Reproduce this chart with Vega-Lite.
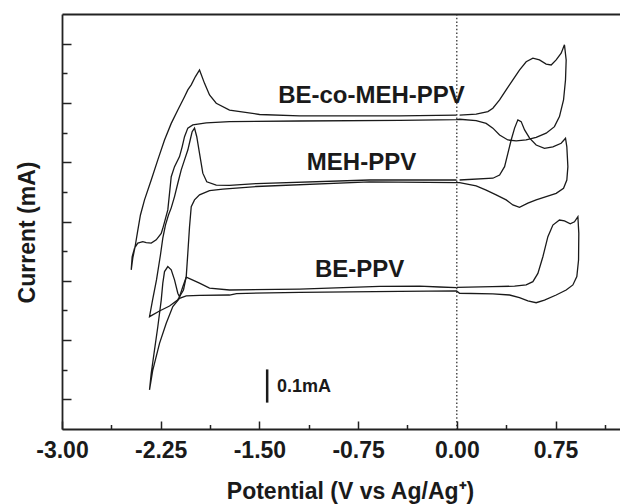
{
  "$schema": "https://vega.github.io/schema/vega-lite/v6.json",
  "autosize": {"type": "none"},
  "padding": {"left": 62, "top": 14, "right": 0, "bottom": 75},
  "width": 558,
  "height": 415,
  "config": {"view": {"stroke": null}, "font": "Liberation Sans"},
  "datasets": {
    "curves": [
      {"s":"BE-co-MEH-PPV","i":1,"V":0.021,"I":10.59},{"s":"BE-co-MEH-PPV","i":2,"V":0.147,"I":10.62},{"s":"BE-co-MEH-PPV","i":3,"V":0.236,"I":10.71},{"s":"BE-co-MEH-PPV","i":4,"V":0.274,"I":10.82},{"s":"BE-co-MEH-PPV","i":5,"V":0.325,"I":11.10},{"s":"BE-co-MEH-PPV","i":6,"V":0.375,"I":11.44},{"s":"BE-co-MEH-PPV","i":7,"V":0.426,"I":11.78},{"s":"BE-co-MEH-PPV","i":8,"V":0.476,"I":12.11},{"s":"BE-co-MEH-PPV","i":9,"V":0.527,"I":12.39},{"s":"BE-co-MEH-PPV","i":10,"V":0.578,"I":12.51},{"s":"BE-co-MEH-PPV","i":11,"V":0.628,"I":12.45},{"s":"BE-co-MEH-PPV","i":12,"V":0.679,"I":12.31},{"s":"BE-co-MEH-PPV","i":13,"V":0.717,"I":12.28},{"s":"BE-co-MEH-PPV","i":14,"V":0.755,"I":12.45},{"s":"BE-co-MEH-PPV","i":15,"V":0.793,"I":12.68},{"s":"BE-co-MEH-PPV","i":16,"V":0.818,"I":12.96},
      {"s":"BE-co-MEH-PPV","i":17,"V":0.831,"I":12.45},{"s":"BE-co-MEH-PPV","i":18,"V":0.826,"I":11.78},{"s":"BE-co-MEH-PPV","i":19,"V":0.811,"I":11.10},{"s":"BE-co-MEH-PPV","i":20,"V":0.780,"I":10.54},{"s":"BE-co-MEH-PPV","i":21,"V":0.742,"I":10.20},{"s":"BE-co-MEH-PPV","i":22,"V":0.679,"I":9.98},{"s":"BE-co-MEH-PPV","i":23,"V":0.603,"I":9.84},{"s":"BE-co-MEH-PPV","i":24,"V":0.527,"I":9.75},{"s":"BE-co-MEH-PPV","i":25,"V":0.451,"I":9.72},{"s":"BE-co-MEH-PPV","i":26,"V":0.388,"I":9.75},{"s":"BE-co-MEH-PPV","i":27,"V":0.325,"I":9.92},{"s":"BE-co-MEH-PPV","i":28,"V":0.274,"I":10.15},{"s":"BE-co-MEH-PPV","i":29,"V":0.223,"I":10.31},{"s":"BE-co-MEH-PPV","i":30,"V":0.147,"I":10.40},{"s":"BE-co-MEH-PPV","i":31,"V":0.021,"I":10.45},
      {"s":"BE-co-MEH-PPV","i":32,"V":-0.002,"I":10.44},{"s":"BE-co-MEH-PPV","i":33,"V":-0.435,"I":10.41},{"s":"BE-co-MEH-PPV","i":34,"V":-1.195,"I":10.39},{"s":"BE-co-MEH-PPV","i":35,"V":-1.727,"I":10.37},{"s":"BE-co-MEH-PPV","i":36,"V":-1.904,"I":10.33},{"s":"BE-co-MEH-PPV","i":37,"V":-2.006,"I":10.26},{"s":"BE-co-MEH-PPV","i":38,"V":-2.044,"I":10.15},{"s":"BE-co-MEH-PPV","i":39,"V":-2.069,"I":9.86},{"s":"BE-co-MEH-PPV","i":40,"V":-2.087,"I":9.52},{"s":"BE-co-MEH-PPV","i":41,"V":-2.107,"I":9.19},{"s":"BE-co-MEH-PPV","i":42,"V":-2.145,"I":8.85},{"s":"BE-co-MEH-PPV","i":43,"V":-2.170,"I":8.51},{"s":"BE-co-MEH-PPV","i":44,"V":-2.183,"I":7.95},{"s":"BE-co-MEH-PPV","i":45,"V":-2.196,"I":7.39},{"s":"BE-co-MEH-PPV","i":46,"V":-2.221,"I":6.98},{"s":"BE-co-MEH-PPV","i":47,"V":-2.234,"I":6.77},{"s":"BE-co-MEH-PPV","i":48,"V":-2.246,"I":6.60},{"s":"BE-co-MEH-PPV","i":49,"V":-2.284,"I":6.38},{"s":"BE-co-MEH-PPV","i":50,"V":-2.322,"I":6.27},{"s":"BE-co-MEH-PPV","i":51,"V":-2.360,"I":6.29},{"s":"BE-co-MEH-PPV","i":52,"V":-2.386,"I":6.32},{"s":"BE-co-MEH-PPV","i":53,"V":-2.424,"I":6.27},{"s":"BE-co-MEH-PPV","i":54,"V":-2.449,"I":6.10},{"s":"BE-co-MEH-PPV","i":55,"V":-2.467,"I":5.81},{"s":"BE-co-MEH-PPV","i":56,"V":-2.474,"I":5.37},
      {"s":"BE-co-MEH-PPV","i":57,"V":-2.462,"I":5.77},{"s":"BE-co-MEH-PPV","i":58,"V":-2.445,"I":6.14},{"s":"BE-co-MEH-PPV","i":59,"V":-2.426,"I":6.65},{"s":"BE-co-MEH-PPV","i":60,"V":-2.404,"I":7.22},{"s":"BE-co-MEH-PPV","i":61,"V":-2.373,"I":7.73},{"s":"BE-co-MEH-PPV","i":62,"V":-2.322,"I":8.40},{"s":"BE-co-MEH-PPV","i":63,"V":-2.272,"I":9.08},{"s":"BE-co-MEH-PPV","i":64,"V":-2.221,"I":9.75},{"s":"BE-co-MEH-PPV","i":65,"V":-2.170,"I":10.31},{"s":"BE-co-MEH-PPV","i":66,"V":-2.120,"I":10.76},{"s":"BE-co-MEH-PPV","i":67,"V":-2.069,"I":11.21},{"s":"BE-co-MEH-PPV","i":68,"V":-2.044,"I":11.44},{"s":"BE-co-MEH-PPV","i":69,"V":-2.018,"I":11.61},{"s":"BE-co-MEH-PPV","i":70,"V":-1.986,"I":11.89},{"s":"BE-co-MEH-PPV","i":71,"V":-1.955,"I":12.11},{"s":"BE-co-MEH-PPV","i":72,"V":-1.917,"I":11.66},{"s":"BE-co-MEH-PPV","i":73,"V":-1.879,"I":11.27},{"s":"BE-co-MEH-PPV","i":74,"V":-1.828,"I":10.99},{"s":"BE-co-MEH-PPV","i":75,"V":-1.727,"I":10.76},{"s":"BE-co-MEH-PPV","i":76,"V":-1.499,"I":10.61},{"s":"BE-co-MEH-PPV","i":77,"V":-1.195,"I":10.56},{"s":"BE-co-MEH-PPV","i":78,"V":-0.435,"I":10.56},{"s":"BE-co-MEH-PPV","i":79,"V":-0.002,"I":10.59},

      {"s":"MEH-PPV","i":1,"V":0.021,"I":8.40},{"s":"MEH-PPV","i":2,"V":0.274,"I":8.46},{"s":"MEH-PPV","i":3,"V":0.325,"I":8.57},{"s":"MEH-PPV","i":4,"V":0.363,"I":8.85},{"s":"MEH-PPV","i":5,"V":0.388,"I":9.30},{"s":"MEH-PPV","i":6,"V":0.413,"I":9.75},{"s":"MEH-PPV","i":7,"V":0.439,"I":10.15},{"s":"MEH-PPV","i":8,"V":0.464,"I":10.43},{"s":"MEH-PPV","i":9,"V":0.489,"I":10.37},{"s":"MEH-PPV","i":10,"V":0.515,"I":10.09},{"s":"MEH-PPV","i":11,"V":0.553,"I":9.81},{"s":"MEH-PPV","i":12,"V":0.603,"I":9.58},{"s":"MEH-PPV","i":13,"V":0.666,"I":9.47},{"s":"MEH-PPV","i":14,"V":0.730,"I":9.52},{"s":"MEH-PPV","i":15,"V":0.793,"I":9.64},{"s":"MEH-PPV","i":16,"V":0.826,"I":9.81},
      {"s":"MEH-PPV","i":17,"V":0.836,"I":9.52},{"s":"MEH-PPV","i":18,"V":0.844,"I":8.85},{"s":"MEH-PPV","i":19,"V":0.836,"I":8.40},{"s":"MEH-PPV","i":20,"V":0.811,"I":8.12},{"s":"MEH-PPV","i":21,"V":0.755,"I":7.95},{"s":"MEH-PPV","i":22,"V":0.679,"I":7.84},{"s":"MEH-PPV","i":23,"V":0.603,"I":7.73},{"s":"MEH-PPV","i":24,"V":0.540,"I":7.62},{"s":"MEH-PPV","i":25,"V":0.476,"I":7.48},{"s":"MEH-PPV","i":26,"V":0.426,"I":7.56},{"s":"MEH-PPV","i":27,"V":0.375,"I":7.73},{"s":"MEH-PPV","i":28,"V":0.299,"I":7.90},{"s":"MEH-PPV","i":29,"V":0.223,"I":8.06},{"s":"MEH-PPV","i":30,"V":0.147,"I":8.20},{"s":"MEH-PPV","i":31,"V":0.021,"I":8.31},
      {"s":"MEH-PPV","i":32,"V":-0.002,"I":8.31},{"s":"MEH-PPV","i":33,"V":-0.663,"I":8.34},{"s":"MEH-PPV","i":34,"V":-1.524,"I":8.18},{"s":"MEH-PPV","i":35,"V":-1.778,"I":8.09},{"s":"MEH-PPV","i":36,"V":-1.879,"I":8.04},{"s":"MEH-PPV","i":37,"V":-1.955,"I":7.90},{"s":"MEH-PPV","i":38,"V":-1.993,"I":7.73},{"s":"MEH-PPV","i":39,"V":-2.018,"I":7.50},{"s":"MEH-PPV","i":40,"V":-2.031,"I":6.82},{"s":"MEH-PPV","i":41,"V":-2.044,"I":5.93},{"s":"MEH-PPV","i":42,"V":-2.056,"I":5.14},{"s":"MEH-PPV","i":43,"V":-2.077,"I":4.69},{"s":"MEH-PPV","i":44,"V":-2.122,"I":4.35},{"s":"MEH-PPV","i":45,"V":-2.183,"I":4.15},{"s":"MEH-PPV","i":46,"V":-2.259,"I":3.98},{"s":"MEH-PPV","i":47,"V":-2.335,"I":3.79},
      {"s":"MEH-PPV","i":48,"V":-2.312,"I":4.35},{"s":"MEH-PPV","i":49,"V":-2.282,"I":5.03},{"s":"MEH-PPV","i":50,"V":-2.252,"I":5.87},{"s":"MEH-PPV","i":51,"V":-2.234,"I":6.44},{"s":"MEH-PPV","i":52,"V":-2.214,"I":6.88},{"s":"MEH-PPV","i":53,"V":-2.191,"I":7.22},{"s":"MEH-PPV","i":54,"V":-2.170,"I":7.46},{"s":"MEH-PPV","i":55,"V":-2.145,"I":7.84},{"s":"MEH-PPV","i":56,"V":-2.120,"I":8.29},{"s":"MEH-PPV","i":57,"V":-2.094,"I":8.74},{"s":"MEH-PPV","i":58,"V":-2.069,"I":9.08},{"s":"MEH-PPV","i":59,"V":-2.044,"I":9.41},{"s":"MEH-PPV","i":60,"V":-2.026,"I":9.75},{"s":"MEH-PPV","i":61,"V":-2.011,"I":10.03},{"s":"MEH-PPV","i":62,"V":-1.993,"I":10.15},{"s":"MEH-PPV","i":63,"V":-1.976,"I":9.86},{"s":"MEH-PPV","i":64,"V":-1.955,"I":9.30},{"s":"MEH-PPV","i":65,"V":-1.930,"I":8.63},{"s":"MEH-PPV","i":66,"V":-1.900,"I":8.34},{"s":"MEH-PPV","i":67,"V":-1.828,"I":8.23},{"s":"MEH-PPV","i":68,"V":-1.727,"I":8.22},{"s":"MEH-PPV","i":69,"V":-1.524,"I":8.28},{"s":"MEH-PPV","i":70,"V":-0.663,"I":8.40},{"s":"MEH-PPV","i":71,"V":-0.002,"I":8.40},

      {"s":"BE-PPV","i":1,"V":0.000,"I":4.78},{"s":"BE-PPV","i":2,"V":0.271,"I":4.80},{"s":"BE-PPV","i":3,"V":0.439,"I":4.82},{"s":"BE-PPV","i":4,"V":0.527,"I":4.86},{"s":"BE-PPV","i":5,"V":0.578,"I":4.97},{"s":"BE-PPV","i":6,"V":0.616,"I":5.25},{"s":"BE-PPV","i":7,"V":0.654,"I":5.81},{"s":"BE-PPV","i":8,"V":0.692,"I":6.49},{"s":"BE-PPV","i":9,"V":0.730,"I":6.88},{"s":"BE-PPV","i":10,"V":0.780,"I":7.05},{"s":"BE-PPV","i":11,"V":0.818,"I":7.02},{"s":"BE-PPV","i":12,"V":0.862,"I":6.92},{"s":"BE-PPV","i":13,"V":0.894,"I":6.99},{"s":"BE-PPV","i":14,"V":0.920,"I":7.16},
      {"s":"BE-PPV","i":15,"V":0.927,"I":6.60},{"s":"BE-PPV","i":16,"V":0.925,"I":5.70},{"s":"BE-PPV","i":17,"V":0.912,"I":5.14},{"s":"BE-PPV","i":18,"V":0.882,"I":4.86},{"s":"BE-PPV","i":19,"V":0.831,"I":4.69},{"s":"BE-PPV","i":20,"V":0.755,"I":4.52},{"s":"BE-PPV","i":21,"V":0.666,"I":4.35},{"s":"BE-PPV","i":22,"V":0.603,"I":4.26},{"s":"BE-PPV","i":23,"V":0.540,"I":4.32},{"s":"BE-PPV","i":24,"V":0.476,"I":4.43},{"s":"BE-PPV","i":25,"V":0.401,"I":4.52},{"s":"BE-PPV","i":26,"V":0.274,"I":4.56},{"s":"BE-PPV","i":27,"V":0.021,"I":4.58},
      {"s":"BE-PPV","i":28,"V":-0.002,"I":4.66},{"s":"BE-PPV","i":29,"V":-0.435,"I":4.64},{"s":"BE-PPV","i":30,"V":-1.195,"I":4.61},{"s":"BE-PPV","i":31,"V":-1.674,"I":4.57},{"s":"BE-PPV","i":32,"V":-1.727,"I":4.52},{"s":"BE-PPV","i":33,"V":-1.955,"I":4.51},{"s":"BE-PPV","i":34,"V":-2.056,"I":4.49},{"s":"BE-PPV","i":35,"V":-2.107,"I":4.41},{"s":"BE-PPV","i":36,"V":-2.158,"I":4.13},{"s":"BE-PPV","i":37,"V":-2.208,"I":3.57},{"s":"BE-PPV","i":38,"V":-2.259,"I":2.89},{"s":"BE-PPV","i":39,"V":-2.310,"I":1.99},{"s":"BE-PPV","i":40,"V":-2.335,"I":1.32},
      {"s":"BE-PPV","i":41,"V":-2.322,"I":1.88},{"s":"BE-PPV","i":42,"V":-2.297,"I":2.67},{"s":"BE-PPV","i":43,"V":-2.272,"I":3.45},{"s":"BE-PPV","i":44,"V":-2.246,"I":4.35},{"s":"BE-PPV","i":45,"V":-2.234,"I":4.92},{"s":"BE-PPV","i":46,"V":-2.221,"I":5.31},{"s":"BE-PPV","i":47,"V":-2.196,"I":5.48},{"s":"BE-PPV","i":48,"V":-2.170,"I":5.37},{"s":"BE-PPV","i":49,"V":-2.145,"I":5.03},{"s":"BE-PPV","i":50,"V":-2.120,"I":4.58},{"s":"BE-PPV","i":51,"V":-2.107,"I":4.46},{"s":"BE-PPV","i":52,"V":-2.082,"I":4.80},{"s":"BE-PPV","i":53,"V":-2.056,"I":5.12},{"s":"BE-PPV","i":54,"V":-2.018,"I":5.05},{"s":"BE-PPV","i":55,"V":-1.955,"I":4.92},{"s":"BE-PPV","i":56,"V":-1.879,"I":4.75},{"s":"BE-PPV","i":57,"V":-1.727,"I":4.69},{"s":"BE-PPV","i":58,"V":-1.195,"I":4.72},{"s":"BE-PPV","i":59,"V":-0.587,"I":4.81},{"s":"BE-PPV","i":60,"V":-0.283,"I":4.82},{"s":"BE-PPV","i":61,"V":-0.131,"I":4.79},{"s":"BE-PPV","i":62,"V":-0.002,"I":4.77}
    ],
    "labels": [
      {"V": -0.648, "I": 10.99, "t": "BE-co-MEH-PPV"},
      {"V": -0.724, "I": 8.74, "t": "MEH-PPV"},
      {"V": -0.739, "I": 5.12, "t": "BE-PPV"}
    ],
    "bar": [{"V": -1.441, "I": 0.89, "I2": 2.01, "t": "0.1mA", "tV": -1.366, "tI": 1.26}],
    "zero": [{"V": 0}]
  },
  "layer": [
    {
      "data": {"name": "curves"},
      "mark": {"type": "line", "strokeWidth": 1.3, "color": "#1a1a1a", "interpolate": "linear"},
      "encoding": {
        "x": {"field": "V", "type": "quantitative",
          "scale": {"domain": [-3, 1.24], "nice": false, "zero": false},
          "axis": {"orient": "bottom", "values": [-3, -2.25, -1.5, -0.75, 0, 0.75],
            "labelExpr": "replace(format(datum.value, '.2f'), '\u2212', '-')",
            "grid": false, "tickSize": -8, "tickWidth": 1.5, "tickColor": "#222", "domainColor": "#222", "domainWidth": 1.8,
            "labelFont": "Liberation Sans", "labelFontWeight": "bold", "labelFontSize": 23, "labelColor": "#1a1a1a",
            "labelBaseline": "alphabetic", "labelPadding": 36, "labelFlush": false, "labelOverlap": false,
            "title": "Potential (V vs Ag/Ag⁺)", "titleFont": "Liberation Sans", "titleFontWeight": "bold", "titleFontSize": 23,
            "titleColor": "#1a1a1a", "titleX": 288, "titleY": 69, "titleBaseline": "alphabetic", "titleAlign": "center"}},
        "y": {"field": "I", "type": "quantitative",
          "scale": {"domain": [0, 14], "nice": false, "zero": false},
          "axis": {"orient": "left", "values": [1, 3, 5, 7, 9, 11, 13], "labels": false, "grid": false,
            "tickSize": -9, "tickWidth": 1.5, "tickColor": "#222", "domainColor": "#222", "domainWidth": 1.8,
            "title": "Current (mA)", "titleFont": "Liberation Sans", "titleFontWeight": "bold", "titleFontSize": 23,
            "titleColor": "#1a1a1a", "titleX": -28, "titleY": 218, "titleBaseline": "alphabetic", "titleAlign": "center", "titleAngle": 270}},
        "detail": {"field": "s"},
        "order": {"field": "i", "type": "quantitative"}
      }
    },
    {
      "data": {"name": "bar"},
      "mark": {"type": "rule", "strokeWidth": 2.5, "color": "#1a1a1a"},
      "encoding": {
        "x": {"field": "V", "type": "quantitative",
          "axis": {"orient": "bottom", "values": [-2.625, -1.875, -1.125, -0.375, 0.375, 1.125], "labels": false, "domain": false,
            "grid": false, "tickSize": -4.5, "tickWidth": 1.5, "tickColor": "#222", "title": null}},
        "y": {"field": "I", "type": "quantitative",
          "axis": {"orient": "left", "values": [2, 4, 6, 8, 10, 12], "labels": false, "domain": false,
            "grid": false, "tickSize": -5, "tickWidth": 1.5, "tickColor": "#222", "title": null}},
        "y2": {"field": "I2"}
      }
    },
    {
      "data": {"name": "bar"},
      "mark": {"type": "text", "font": "Liberation Sans", "fontWeight": "bold", "fontSize": 18, "align": "left", "baseline": "alphabetic", "color": "#1a1a1a"},
      "encoding": {
        "x": {"field": "tV", "type": "quantitative",
          "axis": {"orient": "top", "values": [], "labels": false, "ticks": false, "domain": true, "domainWidth": 1.8, "domainColor": "#222", "grid": false, "title": null}},
        "y": {"field": "tI", "type": "quantitative", "axis": null},
        "text": {"field": "t"}
      }
    },
    {
      "data": {"name": "zero"},
      "mark": {"type": "rule", "strokeWidth": 1.2, "strokeDash": [1.5, 2.2], "color": "#222"},
      "encoding": {
        "x": {"field": "V", "type": "quantitative", "axis": null}
      }
    },
    {
      "data": {"name": "labels"},
      "mark": {"type": "text", "font": "Liberation Sans", "fontWeight": "bold", "fontSize": 24, "align": "center", "baseline": "alphabetic", "color": "#1a1a1a"},
      "encoding": {
        "x": {"field": "V", "type": "quantitative", "axis": null},
        "y": {"field": "I", "type": "quantitative", "axis": null},
        "text": {"field": "t"}
      }
    }
  ],
  "resolve": {"axis": {"x": "independent", "y": "independent"}}
}
